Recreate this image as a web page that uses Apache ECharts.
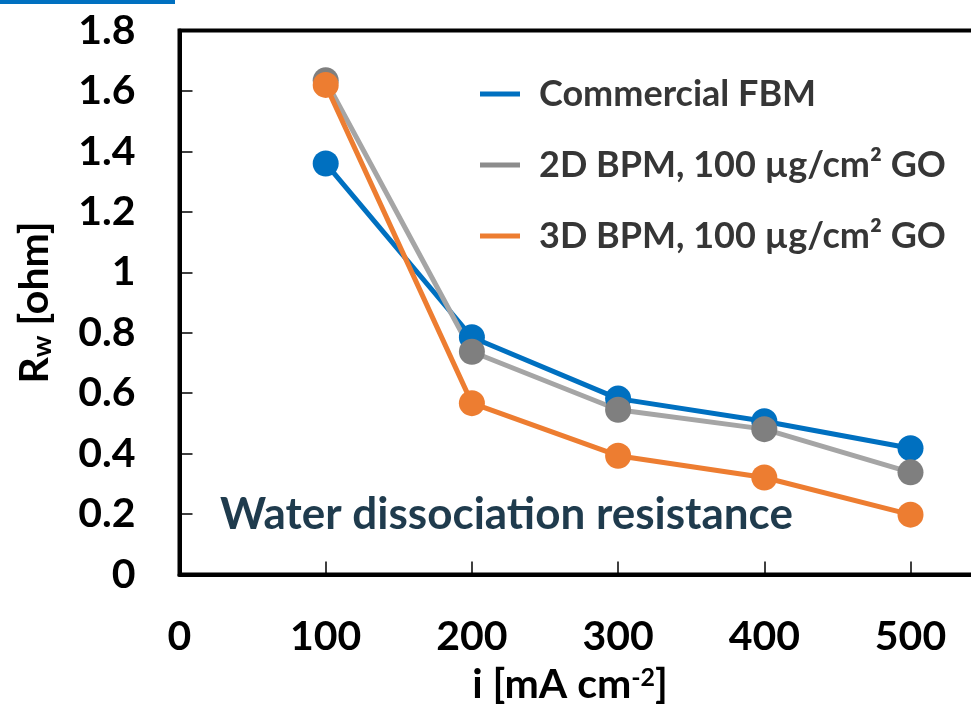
<!DOCTYPE html>
<html>
<head>
<meta charset="utf-8">
<style>
  html, body { margin: 0; padding: 0; background: #fff; }
  #chart { width: 971px; height: 705px; }
</style>
<script src="https://cdn.jsdelivr.net/npm/echarts@6/dist/echarts.min.js"></script>
</head>
<body>
<div id="chart"></div>
<script>
// Current density (mA cm^-2)
const currents = [100, 200, 300, 400, 500];
// Water dissociation resistance R_w (ohm) for each membrane
const commercialFBM = [1.36, 0.785, 0.582, 0.507, 0.418];
const bpm2D = [1.635, 0.737, 0.545, 0.481, 0.338];
const bpm3D = [1.62, 0.567, 0.393, 0.321, 0.198];
const seriesNames = ['Commercial FBM', '2D BPM, 100 µg/cm² GO', '3D BPM, 100 µg/cm² GO'];
const yTicks = [0, 0.2, 0.4, 0.6, 0.8, 1, 1.2, 1.4, 1.6, 1.8];
const xTicks = [0, 100, 200, 300, 400, 500];

const FONT = 'Lato';
const pairs = vals => currents.map((c, i) => [c, vals[i]]);

function lineSeries(name, vals, lineColor, dotColor) {
  return {
    type: 'line',
    name: name,
    data: pairs(vals),
    symbol: 'circle',
    symbolSize: 26,
    lineStyle: { color: lineColor, width: 5 },
    itemStyle: { color: dotColor },
    emphasis: { disabled: true },
    animation: false
  };
}

const chart = echarts.init(document.getElementById('chart'), null, { renderer: 'canvas' });
chart.setOption({
  backgroundColor: '#fff',
  animation: false,
  grid: {
    left: 179.5, right: -85.7, top: 30.5, bottom: 130.5,
    outerBoundsMode: 'none',
    containLabel: false,
    show: true, borderColor: '#000', borderWidth: 4, backgroundColor: 'transparent'
  },
  legend: {
    orient: 'vertical',
    left: 475,
    top: 71,
    itemWidth: 40,
    itemHeight: 5,
    itemGap: 35,
    icon: 'rect',
    textStyle: { fontFamily: FONT, fontWeight: 'bold', fontSize: 36, color: '#363636', padding: [0, 0, 0, 14] },
    data: [
      { name: seriesNames[0], itemStyle: { color: '#0070C0' } },
      { name: seriesNames[1], itemStyle: { color: '#8C8C8C' } },
      { name: seriesNames[2], itemStyle: { color: '#ED7D31' } }
    ]
  },
  xAxis: {
    type: 'value',
    min: 0, max: 600, interval: 100,
    axisLine: { show: true, lineStyle: { color: '#000', width: 4 } },
    axisTick: { show: true, inside: true, length: 13, lineStyle: { color: '#000', width: 1.5 } },
    splitLine: { show: false },
    axisLabel: {
      margin: 42,
      fontFamily: FONT, fontWeight: 'bold', fontSize: 41, color: '#000',
      formatter: v => xTicks.includes(v) ? String(v) : ''
    },
    name: '{a|i [mA cm}{s|-2}{a|]}',
    nameLocation: 'middle',
    nameGap: 88,
    nameTextStyle: {
      padding: [0, 96, 0, 0],
      rich: {
        a: { fontFamily: FONT, fontWeight: 'bold', fontSize: 41, color: '#000', lineHeight: 44 },
        s: { fontFamily: FONT, fontWeight: 'bold', fontSize: 25, color: '#000', padding: [0, 0, 14, 0], lineHeight: 44 }
      }
    }
  },
  yAxis: {
    type: 'value',
    min: 0, max: 1.8, interval: 0.2,
    axisLine: { show: true, lineStyle: { color: '#000', width: 4 } },
    axisTick: { show: true, inside: true, length: 13, lineStyle: { color: '#000', width: 1.5 } },
    splitLine: { show: false },
    axisLabel: {
      margin: 44,
      fontFamily: FONT, fontWeight: 'bold', fontSize: 41, color: '#000',
      formatter: v => {
        const t = yTicks.find(y => Math.abs(y - v) < 1e-9);
        return t === undefined ? '' : String(t);
      }
    },
    name: '{a|R}{b|w}{a| [ohm]}',
    nameLocation: 'middle',
    nameGap: 121,
    nameTextStyle: {
      rich: {
        a: { fontFamily: FONT, fontWeight: 'bold', fontSize: 41, color: '#000', lineHeight: 48 },
        b: { fontFamily: FONT, fontWeight: 'bold', fontSize: 27, color: '#000', padding: [16, 0, 0, 0], lineHeight: 48 }
      }
    }
  },
  graphic: [
    { type: 'rect', left: 0, top: 0, shape: { width: 175, height: 4 }, style: { fill: '#0070C0' } },
    {
      type: 'text', left: 220, top: 493,
      style: { text: 'Water dissociation resistance', fontFamily: FONT, fontWeight: 'bold', fontSize: 44, fill: '#1F3B4D' }
    }
  ],
  series: [
    lineSeries(seriesNames[0], commercialFBM, '#0070C0', '#0070C0'),
    lineSeries(seriesNames[1], bpm2D, '#A5A5A5', '#7F7F7F'),
    lineSeries(seriesNames[2], bpm3D, '#ED7D31', '#ED7D31')
  ]
});
</script>
</body>
</html>
